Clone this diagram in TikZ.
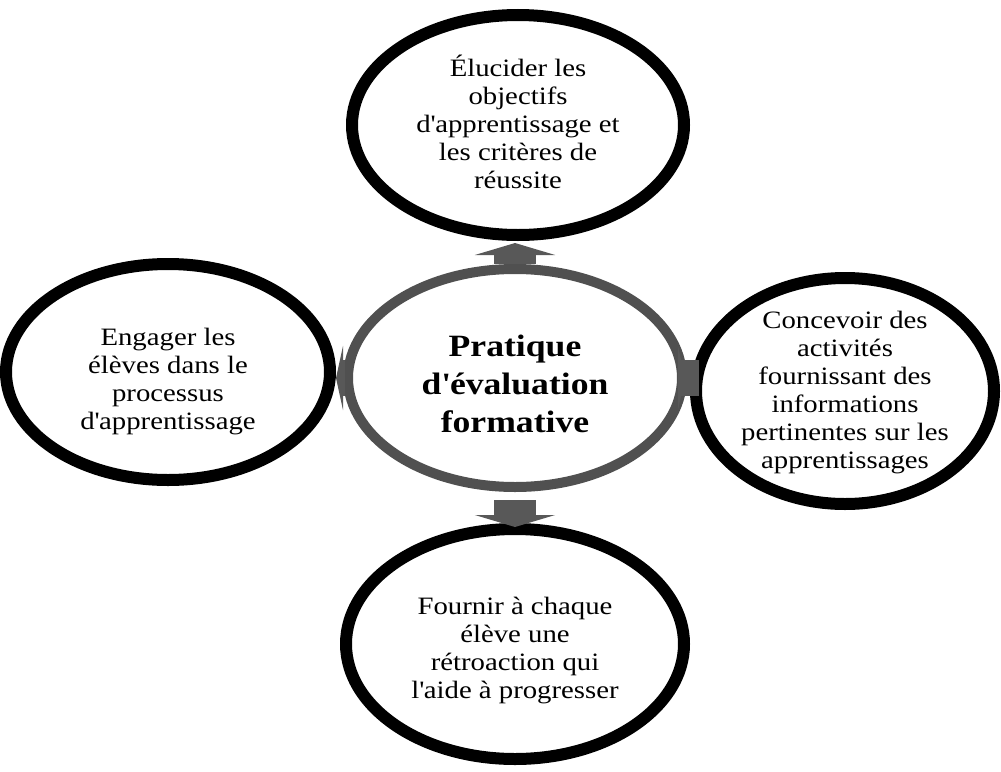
\documentclass[tikz,border=0pt]{standalone}
\usepackage{fontspec}
\setmainfont[FakeStretch=1.15]{Liberation Serif}
\usetikzlibrary{shapes.geometric,arrows.meta}
\definecolor{ringGray}{RGB}{80,80,80}
\definecolor{arrowGray}{RGB}{88,88,88}
\tikzstyle{bubbleStyle} = [ellipse, draw=black, line width=12pt, inner sep=0pt]
\tikzstyle{centreStyle} = [ellipse, draw=ringGray, line width=10pt, inner sep=0pt]
\tikzstyle{bubbleText} = [align=center, inner sep=0pt, font=\fontsize{25}{28}\selectfont]
\tikzstyle{centreText} = [align=center, inner sep=0pt, font=\bfseries\fontsize{31}{38}\selectfont]
\tikzstyle{blockArrow} = [draw=arrowGray, line width=42pt, -{Triangle[width=80pt, length=12pt]}]
\tikzstyle{sideArrow} = [draw=arrowGray, line width=36pt, -{Triangle[width=64pt, length=7pt]}]
\newcommand{\q}{\textquotesingle}
\begin{document}
\begin{tikzpicture}[x=1pt, y=-1pt]
  \useasboundingbox (0,0) rectangle (1001,771);
  % ellipses
  \node [bubbleStyle, minimum width=332pt, minimum height=220pt] (top) at (518,125) {};
  \node [bubbleStyle, minimum width=324pt, minimum height=216pt] (left) at (168,372) {};
  \node [bubbleStyle, minimum width=298pt, minimum height=226pt] (right) at (845,391) {};
  \node [bubbleStyle, minimum width=338pt, minimum height=230pt] (bottom) at (515,644) {};
  \node [centreStyle, minimum width=334pt, minimum height=218pt] (mid) at (515,378) {};

  % arrows
  \draw [blockArrow, shorten <=0pt, shorten >=2pt] (mid.north) -- (mid.north |- top.south);
  \draw [blockArrow, shorten <=8pt, shorten >=-4pt] (mid.south) -- (mid.south |- bottom.north);
  \draw [sideArrow, shorten <=-2pt, shorten >=0pt] (mid.west) -- (mid.west -| left.east);
  \draw [sideArrow, shorten <=-12pt, shorten >=5pt] (mid.east) -- (mid.east -| right.west);

  % texts
  \node [bubbleText] (topText) at (518,122) {Élucider les\\objectifs\\d\q apprentissage et\\les critères de\\réussite};
  \node [bubbleText] (leftText) at (168,382) {Engager les\\élèves dans le\\processus\\d\q apprentissage};
  \node [bubbleText] (rightText) at (845,393) {Concevoir des\\activités\\fournissant des\\informations\\pertinentes sur les\\apprentissages};
  \node [bubbleText] (bottomText) at (515,650) {Fournir à chaque\\élève une\\rétroaction qui\\l\q aide à progresser};
  \node [centreText] (midText) at (515,384) {Pratique\\d\q évaluation\\formative};
\end{tikzpicture}
\end{document}
